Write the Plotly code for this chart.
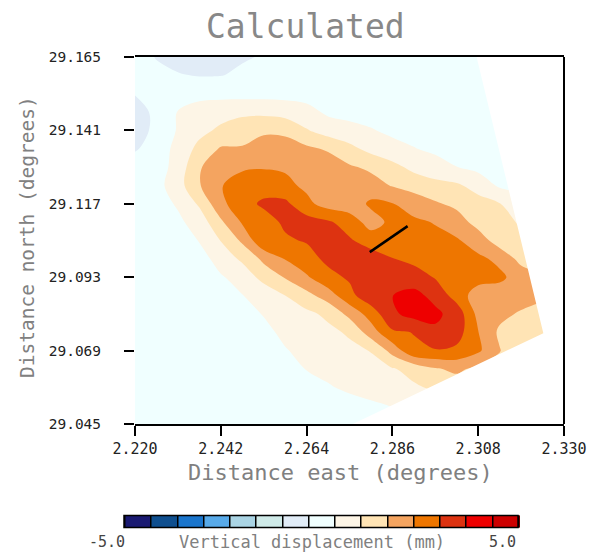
import plotly.graph_objects as go

# ---------------- data ----------------
lon = [2.2200, 2.2255, 2.2310, 2.2365, 2.2420, 2.2475, 2.2530, 2.2585, 2.2640, 2.2695,
       2.2750, 2.2805, 2.2860, 2.2915, 2.2970, 2.3025, 2.3080, 2.3135, 2.3190, 2.3245, 2.3300]
# rows listed from north (top) to south (bottom)
lat = [29.165, 29.159, 29.153, 29.147, 29.141, 29.135, 29.129, 29.123, 29.117, 29.111,
       29.105, 29.099, 29.093, 29.087, 29.081, 29.075, 29.069, 29.063, 29.057, 29.051, 29.045]

disp = [
    [-0.10, -0.36, -0.50, -0.55, -0.50, -0.38, -0.30, -0.20, -0.12, -0.10, -0.08, -0.05, -0.05, -0.05, -0.05, -0.05, -0.05, -0.05, -0.05, -0.05, -0.05],
    [-0.12, -0.20, -0.30, -0.36, -0.35, -0.25, -0.18, -0.10, -0.05, 0.00, 0.00, 0.00, 0.00, 0.00, 0.00, 0.00, 0.00, 0.00, 0.00, 0.00, 0.00],
    [-0.32, -0.20, 0.05, 0.11, 0.11, 0.11, 0.11, 0.10, 0.08, 0.06, 0.04, 0.02, 0.02, 0.02, 0.02, 0.02, 0.02, 0.02, 0.02, 0.02, 0.02],
    [-0.45, -0.27, 0.36, 0.65, 0.80, 0.85, 0.85, 0.75, 0.55, 0.22, 0.12, 0.08, 0.05, 0.05, 0.05, 0.05, 0.05, 0.05, 0.05, 0.05, 0.05],
    [-0.45, -0.27, 0.40, 0.85, 1.10, 1.40, 1.55, 1.50, 1.05, 0.70, 0.55, 0.38, 0.20, 0.12, 0.08, 0.05, 0.05, 0.05, 0.05, 0.05, 0.05],
    [-0.36, -0.22, 0.64, 1.15, 1.74, 1.72, 2.00, 2.00, 1.80, 1.585, 1.18, 0.80, 0.55, 0.36, 0.20, 0.12, 0.08, 0.05, 0.05, 0.05, 0.05],
    [-0.20, 0.00, 0.60, 1.60, 2.115, 2.25, 2.28, 2.25, 2.15, 2.05, 1.75, 1.535, 1.20, 0.82, 0.60, 0.34, 0.15, 0.10, 0.05, 0.05, 0.05],
    [0.00, 0.10, 0.72, 1.62, 2.30, 2.60, 2.75, 2.50, 2.20, 2.00, 2.10, 1.95, 1.62, 1.40, 1.20, 1.10, 0.75, 0.23, 0.10, 0.05, 0.05],
    [0.00, 0.05, 0.41, 1.10, 2.15, 2.78, 3.10, 3.16, 2.50, 2.05, 1.95, 2.45, 2.36, 2.05, 1.75, 1.50, 1.25, 1.02, 0.70, 0.50, 0.40],
    [0.00, 0.00, 0.20, 0.62, 1.55, 2.40, 2.75, 3.10, 3.30, 3.10, 2.70, 2.05, 2.50, 2.45, 2.30, 2.00, 1.40, 1.15, 0.95, 0.80, 0.70],
    [0.00, 0.00, 0.05, 0.36, 1.02, 1.78, 2.886, 2.92, 3.05, 3.25, 3.08, 2.70, 2.75, 2.65, 2.50, 2.40, 2.05, 1.30, 1.10, 1.00, 0.90],
    [0.00, 0.00, 0.00, 0.10, 0.566, 1.137, 1.816, 2.366, 2.75, 3.153, 3.35, 3.35, 3.02, 2.80, 2.70, 2.60, 2.45, 2.20, 1.43, 1.20, 1.10],
    [0.00, 0.00, 0.00, 0.00, 0.28, 0.545, 1.256, 1.713, 2.25, 2.803, 3.088, 3.30, 3.50, 3.35, 2.95, 2.75, 2.60, 2.45, 2.08, 1.80, 1.70],
    [0.00, 0.00, 0.00, 0.00, 0.05, 0.32, 0.50, 1.00, 1.45, 2.00, 2.80, 3.45, 3.66, 3.85, 3.48, 2.70, 2.00, 2.05, 2.00, 1.85, 1.80],
    [0.00, 0.00, 0.00, 0.00, 0.00, 0.15, 0.36, 0.65, 0.85, 1.133, 1.864, 2.62, 3.55, 3.894, 3.80, 3.41, 2.13, 1.85, 1.58, 1.35, 1.30],
    [0.00, 0.00, 0.00, 0.00, 0.00, 0.00, 0.20, 0.45, 0.65, 0.85, 1.084, 2.00, 2.90, 3.02, 3.55, 3.30, 2.35, 1.55, 1.35, 1.20, 1.10],
    [0.00, 0.00, 0.00, 0.00, 0.00, 0.00, 0.00, 0.30, 0.48, 0.65, 0.85, 1.026, 1.904, 2.90, 2.95, 2.85, 2.45, 1.70, 1.30, 1.20, 1.10],
    [0.00, 0.00, 0.00, 0.00, 0.00, 0.00, 0.00, 0.15, 0.35, 0.50, 0.65, 0.80, 0.95, 1.20, 1.60, 1.80, 1.50, 1.30, 1.20, 1.10, 1.00],
    [0.00, 0.00, 0.00, 0.00, 0.00, 0.00, 0.00, 0.00, 0.15, 0.28, 0.45, 0.60, 0.75, 0.92, 1.10, 1.30, 1.25, 1.20, 1.10, 1.10, 1.10],
    [0.00, 0.00, 0.00, 0.00, 0.00, 0.00, 0.00, 0.00, 0.00, 0.00, 0.10, 0.22, 0.36, 0.50, 0.65, 0.80, 0.90, 0.90, 0.90, 0.90, 0.90],
    [0.00, 0.00, 0.00, 0.00, 0.00, 0.00, 0.00, 0.00, 0.00, 0.00, 0.00, 0.05, 0.15, 0.25, 0.35, 0.45, 0.50, 0.50, 0.50, 0.50, 0.50],
]

# region outside the model domain (blank)
mask_lon = [2.3074, 2.3320, 2.3320, 2.2742, 2.3247, 2.3074]
mask_lat = [29.1660, 29.1660, 29.0440, 29.0440, 29.0747, 29.1660]

# fault trace
fault_lon = [2.2802, 2.2899]
fault_lat = [29.1012, 29.1097]

level_colors = ["#1a1a72", "#0f4f8f", "#1a75cc", "#58aae9", "#aad4e4", "#cfeae8", "#e1ecf7",
                "#f0ffff", "#fdf5e6", "#ffe4b5", "#f4a460", "#ee7600", "#dd3311", "#ee0000", "#cd0000"]
zlow, zhigh = -5.0, 5.0

x_ticks = [2.220, 2.242, 2.264, 2.286, 2.308, 2.330]
y_ticks = [29.045, 29.069, 29.093, 29.117, 29.141, 29.165]

# ---------------- figure ----------------
n = len(level_colors)
cscale = []
for k, c in enumerate(level_colors):
    cscale.append([k / n, c])
    cscale.append([(k + 1) / n, c])

step = (zhigh - zlow) / n
contours = dict(start=zlow, end=zhigh, size=step, coloring="fill")

fig = go.Figure()
fig.add_trace(go.Contour(
    x=lon, y=lat[::-1], z=disp[::-1], zmin=zlow, zmax=zhigh, zauto=False,
    colorscale=cscale, contours=dict(contours, showlines=False),
    line=dict(width=0, smoothing=1.0), showscale=False, hoverinfo="skip"))

# colour key (trace placed outside the visible map only to carry the colour bar)
fig.add_trace(go.Contour(
    x=[3.0, 3.1], y=[30.0, 30.1], z=[[zlow, zhigh], [zlow, zhigh]],
    zmin=zlow, zmax=zhigh, zauto=False, colorscale=cscale,
    contours=dict(contours, showlines=True), line=dict(width=1.5, color="black"),
    hoverinfo="skip",
    colorbar=dict(orientation="h", thicknessmode="pixels", thickness=12,
                  lenmode="pixels", len=394, x=0.4336, xanchor="center",
                  y=-0.2861, yanchor="bottom", xpad=0, ypad=0,
                  outlinewidth=1.5, outlinecolor="black",
                  showticklabels=False, ticks="")))

fig.add_trace(go.Scatter(x=mask_lon, y=mask_lat, mode="lines", fill="toself",
                         fillcolor="white", line=dict(width=0, color="white"),
                         hoverinfo="skip", showlegend=False))
fig.add_trace(go.Scatter(x=fault_lon, y=fault_lat, mode="lines",
                         line=dict(color="black", width=2.5),
                         hoverinfo="skip", showlegend=False))

mono = "DejaVu Sans Mono"
# the page body adds an 8 px offset, so the margins are shifted to compensate
fig.update_layout(
    width=599, height=552,
    margin=dict(l=127, r=43, t=49, b=136, autoexpand=False),
    paper_bgcolor="white", plot_bgcolor="white",
    showlegend=False,
    xaxis=dict(range=[2.22, 2.33], tickvals=x_ticks, ticktext=[f"{v:.3f}" for v in x_ticks],
               ticks="outside", ticklen=10, tickwidth=2, tickcolor="black",
               showline=True, linewidth=2, linecolor="black", mirror=True,
               showgrid=False, zeroline=False, ticklabelstandoff=0, automargin=False,
               tickfont=dict(family=mono, size=15, color="#222")),
    yaxis=dict(range=[29.045, 29.165], tickvals=y_ticks, ticktext=[f"{v:.3f}" for v in y_ticks],
               ticks="outside", ticklen=10, tickwidth=2, tickcolor="black",
               showline=False, showgrid=False, zeroline=False, ticklabelstandoff=20,
               automargin=False,
               tickfont=dict(family=mono, size=14.5, color="#222")),
    shapes=[dict(type="line", xref="paper", yref="paper", x0=1, x1=1, y0=0, y1=1,
                 line=dict(color="black", width=2))],
    annotations=[
        dict(text="Calculated", xref="paper", yref="paper", x=0.3963, y=1.082,
             xanchor="center", yanchor="middle", showarrow=False,
             font=dict(family=mono, size=33, color="#888")),
        dict(text="Distance east (degrees)", xref="paper", yref="paper", x=0.48, y=-0.1308,
             xanchor="center", yanchor="middle", showarrow=False,
             font=dict(family=mono, size=22, color="#808080")),
        dict(text="Distance north (degrees)", xref="paper", yref="paper", x=-0.2517, y=0.5095,
             xanchor="center", yanchor="middle", showarrow=False, textangle=-90,
             font=dict(family=mono, size=19.5, color="#808080")),
        dict(text="-5.0", xref="paper", yref="paper", x=-0.0186, y=-0.3215,
             xanchor="right", yanchor="middle", showarrow=False,
             font=dict(family=mono, size=15, color="#444")),
        dict(text="5.0", xref="paper", yref="paper", x=0.8928, y=-0.3215,
             xanchor="right", yanchor="middle", showarrow=False,
             font=dict(family=mono, size=15, color="#444")),
        dict(text="Vertical displacement (mm)", xref="paper", yref="paper", x=0.4126, y=-0.3215,
             xanchor="center", yanchor="middle", showarrow=False,
             font=dict(family=mono, size=17, color="#808080")),
    ],
)

fig.write_html("out.html")
